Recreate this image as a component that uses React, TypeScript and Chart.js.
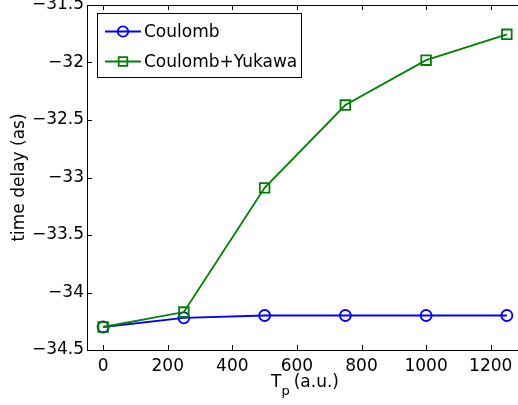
import { useEffect, useRef } from "react";
import { Chart, registerables } from "chart.js";

Chart.register(...registerables);

const tpValues = [0, 250, 500, 750, 1000, 1250];
const coulomb = [-34.3, -34.22, -34.2, -34.2, -34.2, -34.2];
const coulombYukawa = [-34.3, -34.17, -33.09, -32.37, -31.98, -31.755];
const seriesLabels = ["Coulomb", "Coulomb+Yukawa"];
const xTicks = [0, 200, 400, 600, 800, 1000, 1200];
const yTicks = [-34.5, -34, -33.5, -33, -32.5, -32, -31.5];
const xTitleMain = "T";
const xTitleSub = "p";
const xTitleRest = "(a.u.)";
const yTitle = "time delay (as)";

const FONT_FAMILY = '"DejaVu Sans", sans-serif';
const BLUE = "#0000ff";
const GREEN = "#008000";

const fmt = (v: number) => {
  const r = Math.round(v * 100) / 100;
  return (r < 0 ? "\u2212" : "") + String(Math.abs(r));
};

const boxPlugin = {
  id: "matlabBox",
  afterDraw(chart: any) {
    const { ctx, chartArea } = chart;
    const { left, right, top, bottom } = chartArea;
    const xs = chart.scales.x;
    const ys = chart.scales.y;
    ctx.save();
    ctx.strokeStyle = "#000";
    ctx.lineWidth = 1;
    ctx.strokeRect(Math.round(left) + 0.5, Math.round(top) + 0.5, Math.round(right - left), Math.round(bottom - top));
    const tl = 5;
    ctx.beginPath();
    xs.ticks.forEach((t: any) => {
      const px = Math.round(xs.getPixelForValue(t.value)) + 0.5;
      ctx.moveTo(px, bottom);
      ctx.lineTo(px, bottom - tl);
      ctx.moveTo(px, top);
      ctx.lineTo(px, top + tl);
    });
    ys.ticks.forEach((t: any) => {
      const py = Math.round(ys.getPixelForValue(t.value)) + 0.5;
      ctx.moveTo(left, py);
      ctx.lineTo(left + tl, py);
      ctx.moveTo(right, py);
      ctx.lineTo(right - tl, py);
    });
    ctx.stroke();

    // legend
    const fontSize = 17;
    ctx.font = `${fontSize}px ${FONT_FAMILY}`;
    const boxL = Math.round(left) + 10;
    const boxT = Math.round(top) + 8;
    const lineX0 = boxL + 8;
    const lineLen = 36;
    const textX = lineX0 + lineLen + 3;
    const rowH = 30;
    const row0 = boxT + 18.5;
    const datasets = chart.data.datasets;
    let maxW = 0;
    datasets.forEach((d: any) => {
      maxW = Math.max(maxW, ctx.measureText(d.label).width);
    });
    const boxW = textX + maxW + 4 - boxL;
    const boxH = 64;
    ctx.fillStyle = "#fff";
    ctx.fillRect(boxL, boxT, boxW, boxH);
    ctx.strokeStyle = "#000";
    ctx.lineWidth = 1;
    ctx.strokeRect(boxL + 0.5, boxT + 0.5, Math.round(boxW), boxH);
    datasets.forEach((d: any, i: number) => {
      const cy = row0 + i * rowH;
      ctx.strokeStyle = d.borderColor;
      ctx.lineWidth = d.borderWidth;
      ctx.beginPath();
      ctx.moveTo(lineX0, cy);
      ctx.lineTo(lineX0 + lineLen, cy);
      ctx.stroke();
      const cx = lineX0 + lineLen / 2;
      ctx.beginPath();
      if (d.pointStyle === "rect") {
        const h = 4.3;
        ctx.rect(cx - h, cy - h, 2 * h, 2 * h);
      } else {
        ctx.arc(cx, cy, 5.2, 0, Math.PI * 2);
      }
      ctx.stroke();
      ctx.fillStyle = "#000";
      ctx.textBaseline = "middle";
      ctx.textAlign = "left";
      ctx.fillText(d.label, textX, cy + 1);
    });

    // x title with subscript
    const mainFont = `${fontSize}px ${FONT_FAMILY}`;
    const subFont = `13px ${FONT_FAMILY}`;
    ctx.font = mainFont;
    const wT = ctx.measureText(xTitleMain).width;
    const wR = ctx.measureText(xTitleRest).width;
    ctx.font = subFont;
    const wP = ctx.measureText(xTitleSub).width;
    const gap = 4;
    const total = wT + wP + gap + wR;
    const cxT = (left + right) / 2;
    const baseY = 387;
    let x = cxT - total / 2;
    ctx.fillStyle = "#000";
    ctx.textBaseline = "alphabetic";
    ctx.font = mainFont;
    ctx.fillText(xTitleMain, x, baseY);
    x += wT;
    ctx.font = subFont;
    ctx.fillText(xTitleSub, x, baseY + 8);
    x += wP + gap;
    ctx.font = mainFont;
    ctx.fillText(xTitleRest, x, baseY);
    ctx.restore();
  },
};

export default function App() {
  const ref = useRef<HTMLCanvasElement>(null);
  useEffect(() => {
    const chart = new Chart(ref.current as HTMLCanvasElement, {
      type: "line",
      data: {
        datasets: [
          {
            label: seriesLabels[0],
            data: tpValues.map((x, i) => ({ x, y: coulomb[i] })),
            borderColor: BLUE,
            borderWidth: 1.8,
            pointStyle: "circle",
            pointRadius: 5.5,
            pointBorderWidth: 1.8,
            pointBackgroundColor: "rgba(0,0,0,0)",
            pointBorderColor: BLUE,
            backgroundColor: "rgba(0,0,0,0)",
            tension: 0,
            order: 1,
            clip: false,
          },
          {
            label: seriesLabels[1],
            data: tpValues.map((x, i) => ({ x, y: coulombYukawa[i] })),
            borderColor: GREEN,
            borderWidth: 1.8,
            pointStyle: "rect",
            pointRadius: 6.8,
            pointBorderWidth: 1.8,
            pointBackgroundColor: "rgba(0,0,0,0)",
            pointBorderColor: GREEN,
            backgroundColor: "rgba(0,0,0,0)",
            tension: 0,
            order: 0,
            clip: false,
          },
        ],
      },
      options: {
        animation: false,
        responsive: false,
        devicePixelRatio: 1,
        layout: { autoPadding: false, padding: { left: 0, top: 5, right: 1, bottom: 0 } },
        plugins: {
          legend: { display: false },
          tooltip: { enabled: false },
        },
        scales: {
          x: {
            type: "linear",
            min: -50,
            max: 1300,
            grid: { display: false, drawTicks: false },
            border: { display: false },
            ticks: {
              padding: 6,
              color: "#000",
              font: { family: FONT_FAMILY, size: 17 },
              callback: (v: any) => fmt(Number(v)),
              maxRotation: 0,
            },
            afterBuildTicks: (s: any) => {
              s.ticks = xTicks.map((value) => ({ value }));
            },
            afterFit: (s: any) => {
              s.height = 55;
              s.paddingLeft = 0;
              s.paddingRight = 0;
            },
          },
          y: {
            type: "linear",
            min: -34.5,
            max: -31.5,
            grid: { display: false, drawTicks: false },
            border: { display: false },
            ticks: {
              padding: 3,
              color: "#000",
              font: { family: FONT_FAMILY, size: 17 },
              callback: (v: any) => fmt(Number(v)),
            },
            afterBuildTicks: (s: any) => {
              s.ticks = yTicks.map((value) => ({ value }));
            },
            afterFit: (s: any) => {
              s.width = 87;
              s.paddingTop = 0;
              s.paddingBottom = 0;
            },
            title: {
              display: true,
              text: yTitle,
              color: "#000",
              font: { family: FONT_FAMILY, size: 17 },
              padding: { top: 9, bottom: 0 },
            },
          },
        },
      },
      plugins: [boxPlugin],
    } as any);
    return () => chart.destroy();
  }, []);
  return (
    <div
      style={{
        position: "fixed",
        left: 0,
        top: 0,
        width: 518,
        height: 405,
        overflow: "hidden",
        background: "#fff",
      }}
    >
      <canvas ref={ref} width={524} height={405} style={{ display: "block" }} />
    </div>
  );
}
